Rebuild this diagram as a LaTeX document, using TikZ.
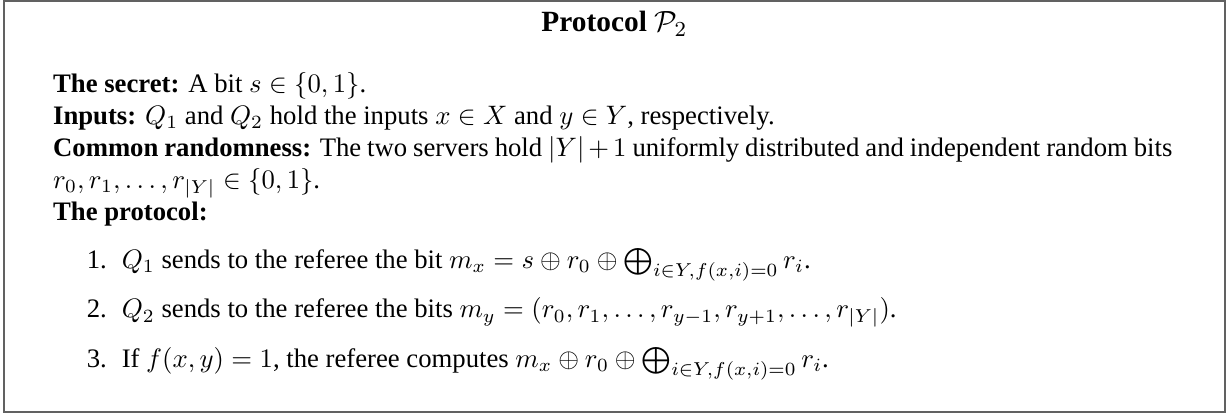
\documentclass[tikz,border=0pt]{standalone}
\usepackage{fontspec}
\setmainfont{Liberation Serif}
\usepackage{amsmath}
\begin{document}
\begin{tikzpicture}[x=1pt,y=-1pt,
  txt/.style={anchor=base west, inner sep=0pt, font=\fontsize{10}{12}\selectfont},
  lbl/.style={anchor=base east, inner sep=0pt, font=\fontsize{10}{12}\selectfont},
  ttl/.style={anchor=base, inner sep=0pt, font=\fontsize{11}{13}\selectfont\bfseries},
  frame/.style={draw=black!62, line width=0.8pt}]
\useasboundingbox (0,0) rectangle (459.93,155.06);
\draw[frame] (1.5,0.5) rectangle (458.8,154.3);
\node[ttl] (title) at (230.1,11.9) {Protocol $\mathcal{P}_2$};
\node[txt] (secret) at (19.7,34.5) {\textbf{The secret:} A bit $s\in\{0,1\}$.};
\node[txt] (inputs) at (19.7,46.5) {\textbf{Inputs:} $Q_1$ and $Q_2$ hold the inputs $x\in X$ and $y\in Y$, respectively.};
\node[txt] (common) at (19.7,58.5) {\makebox[419.2pt][s]{\textbf{Common randomness:} The two servers hold $|Y|+1$ uniformly distributed and independent random bits}};
\node[txt] (rbits) at (19.7,70.5) {$r_0,r_1,\dots,r_{|Y|}\in\{0,1\}$.};
\node[txt] (proto) at (19.7,82.5) {\textbf{The protocol:}};
\node[lbl] (l1) at (40.2,100.4) {1.};
\node[txt] (i1) at (45.4,100.4) {$Q_1$ sends to the referee the bit $m_x=s\oplus r_0\oplus\bigoplus_{i\in Y,f(x,i)=0}r_i$.};
\node[lbl] (l2) at (40.2,119.1) {2.};
\node[txt] (i2) at (45.4,119.1) {$Q_2$ sends to the referee the bits $m_y=(r_0,r_1,\dots,r_{y-1},r_{y+1},\dots,r_{|Y|})$.};
\node[lbl] (l3) at (40.2,137.6) {3.};
\node[txt] (i3) at (45.4,137.6) {If $f(x,y)=1$, the referee computes $m_x\oplus r_0\oplus\bigoplus_{i\in Y,f(x,i)=0}r_i$.};
\end{tikzpicture}
\end{document}
